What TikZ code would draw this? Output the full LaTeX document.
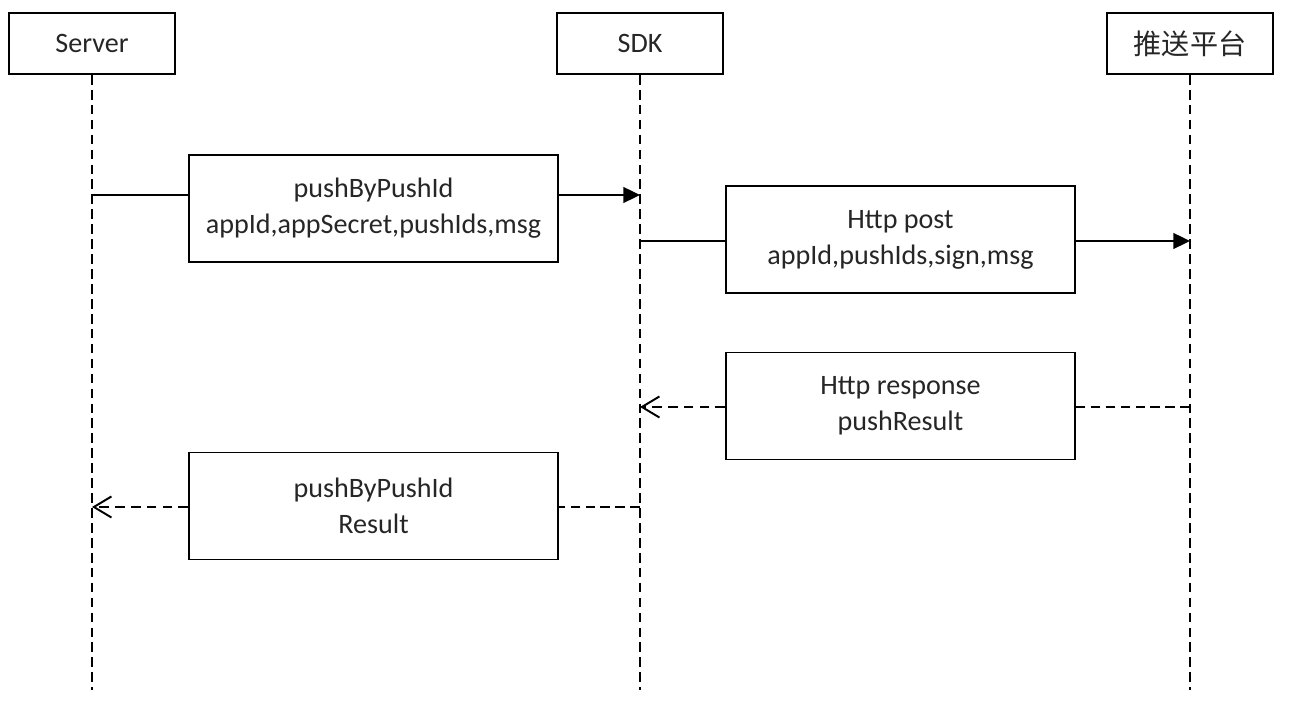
\documentclass[tikz,border=0pt]{standalone}
\usepackage{fontspec}
\setmainfont{Carlito}
\newfontfamily\cjk{Noto Sans CJK SC}
\usetikzlibrary{arrows.meta}

\tikzset{
    actor/.style={draw, line width=1.1pt, minimum width=3.32cm, minimum height=1.22cm, inner sep=0pt},
    msgbox/.style={draw, line width=1.1pt, minimum width=7.38cm, minimum height=2.14cm, align=center, inner sep=0pt},
    lifeline/.style={line width=1.1pt, dash pattern=on 5.5pt off 3pt},
    call/.style={line width=1.1pt, -{Triangle[length=9.5pt, width=9pt]}},
    reply/.style={line width=1.1pt, dash pattern=on 5.5pt off 3.5pt, -{Straight Barb[length=10pt, width=12pt, line width=1.1pt]}}
}

\begin{document}
\begin{tikzpicture}[x=0.02cm, y=-0.02cm, font=\fontsize{16}{20.5}\selectfont, text=black!85]
        \useasboundingbox (0,0) rectangle (1289,712);
        % \draw[help lines, step=100] (0,0) grid (1289,712);

        \node[actor] (server) at (92, 43.5) {Server};
        \node[actor] (sdk) at (640, 43.5) {SDK};
        \node[actor] (push) at (1190, 43.5) {\cjk 推送平台};

        \coordinate (server end) at (92, 690);
        \coordinate (sdk end) at (640, 690);
        \coordinate (push end) at (1190, 690);

        \draw[lifeline] (server.south) -- (server end);
        \draw[lifeline] (sdk.south) -- (sdk end);
        \draw[lifeline] (push.south) -- (push end);

        \node[msgbox] (req) at (373.5, 208.5) {pushByPushId\\appId,appSecret,pushIds,msg};
        \node[msgbox, minimum width=6.98cm] (post) at (900.5, 239.5) {Http post\\appId,pushIds,sign,msg};
        \node[msgbox, minimum width=6.98cm] (resp) at (900.5, 406) {Http response\\pushResult};
        \node[msgbox] (result) at (373.5, 506) {pushByPushId\\Result};

        \coordinate (req y) at (92, 195);
        \coordinate (post y) at (640, 241);
        \coordinate (resp y) at (1190, 407);
        \coordinate (result y) at (640, 507);

        \draw[line width=1.1pt] (req y) -- (req y -| req.west);
        \draw[call] (req y -| req.east) -- (req y -| sdk);

        \draw[line width=1.1pt] (post y) -- (post y -| post.west);
        \draw[call] (post y -| post.east) -- (post y -| push);

        \draw[lifeline] (resp y) -- (resp y -| resp.east);
        \draw[reply] (resp y -| resp.west) -- (resp y -| sdk);

        \draw[lifeline] (result y) -- (result y -| result.east);
        \draw[reply] (result y -| result.west) -- (result y -| server);

    \end{tikzpicture}
\end{document}
